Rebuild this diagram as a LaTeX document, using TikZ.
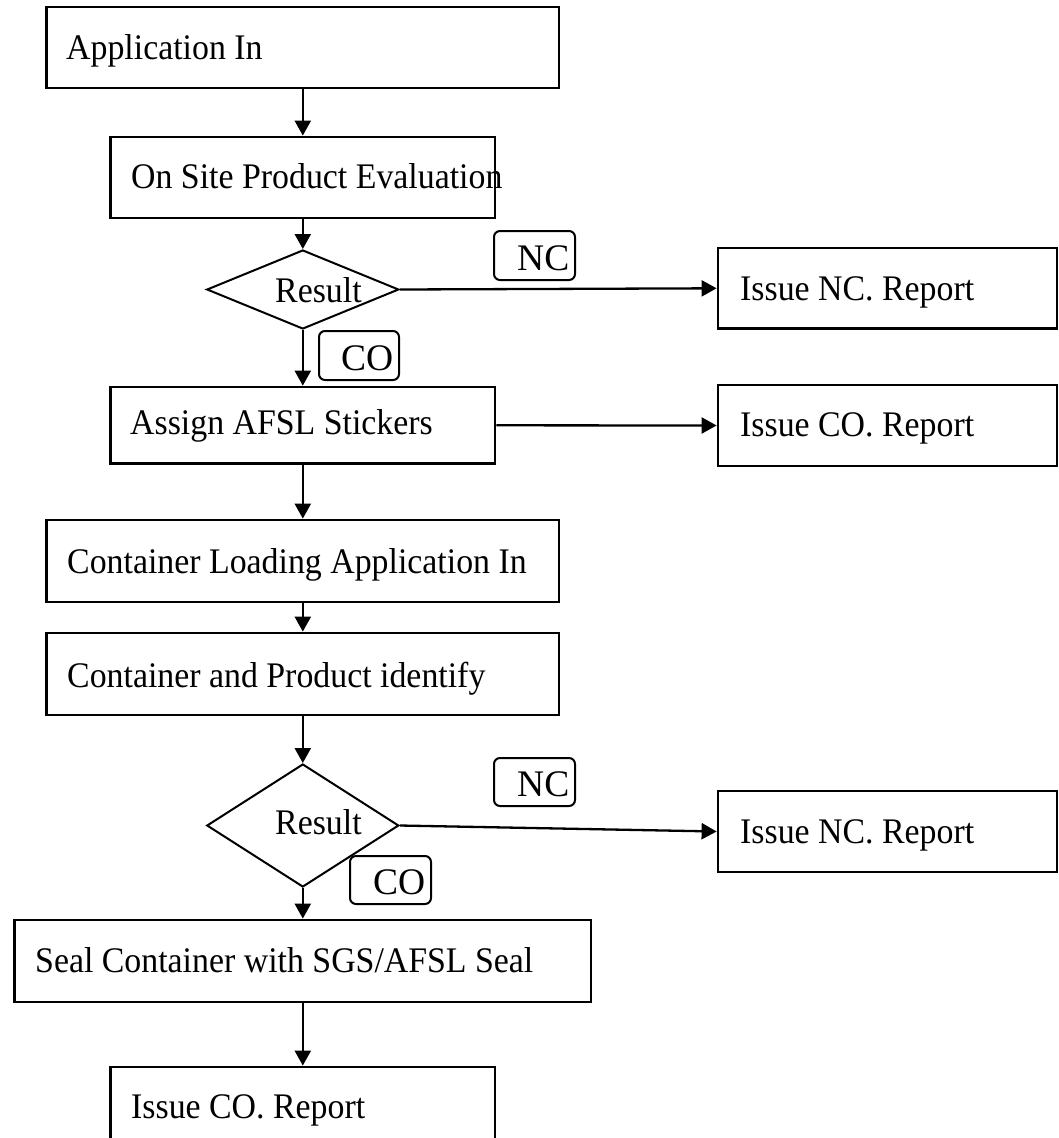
\documentclass[tikz,border=0pt]{standalone}
\usepackage{fontspec}
\setmainfont{Liberation Serif}
\newfontfamily\mainf{Liberation Serif}[FakeStretch=0.94]
\newfontfamily\labfont{Liberation Serif}
\usetikzlibrary{arrows.meta,shapes.geometric}
\tikzset{
  box/.style={draw, line width=2.8pt, rectangle, inner sep=0pt},
  decision/.style={draw, line width=2pt, diamond, inner sep=0pt},
  tag/.style={draw, line width=2pt, rectangle, rounded corners=6pt, inner sep=0pt},
  txt/.style={inner sep=0pt, anchor=base west, font=\mainf\fontsize{36}{40}\selectfont},
  tagtxt/.style={inner sep=0pt, anchor=base west, font=\labfont\fontsize{37.5}{42}\selectfont},
  flow/.style={line width=2.3pt, -{Triangle[length=15pt,width=16pt]}}
}
\begin{document}
\begin{tikzpicture}[x=1pt,y=-1pt]
\path[use as bounding box] (0,0) rectangle (1059,1138);
\clip (0,0) rectangle (1059,1138);
\fill[white] (0,0) rectangle (1059,1138);

% main column boxes
\node[box, minimum width=512.4pt, minimum height=81pt] (b1) at (302.8,47.5) {};
\node[box, minimum width=384.5pt, minimum height=81pt] (b2) at (302.8,177.5) {};
\node[decision, minimum width=192pt, minimum height=79pt] (d1) at (302.8,289.5) {};
\node[box, minimum width=384.5pt, minimum height=76.5pt] (b3) at (302.8,425.3) {};
\node[box, minimum width=512.4pt, minimum height=82pt] (b4) at (302.8,561) {};
\node[box, minimum width=512.4pt, minimum height=82pt] (b5) at (302.8,674) {};
\node[decision, minimum width=192pt, minimum height=123pt] (d2) at (302.8,825.5) {};
\node[box, minimum width=576.5pt, minimum height=82pt] (b6) at (302.8,961) {};
\node[box, minimum width=384.5pt, minimum height=82pt] (b7) at (302.8,1108) {};

% right column boxes
\node[box, minimum width=339pt, minimum height=80.5pt] (r1) at (887.5,288.3) {};
\node[box, minimum width=339pt, minimum height=81pt] (r2) at (887.5,425.5) {};
\node[box, minimum width=339pt, minimum height=81pt] (r3) at (887.5,831.5) {};

% tags
\node[tag, minimum width=81pt, minimum height=49pt] (l1) at (534.5,255.5) {};
\node[tag, minimum width=80pt, minimum height=49pt] (l2) at (359,355.5) {};
\node[tag, minimum width=81pt, minimum height=48pt] (l3) at (534.5,782) {};
\node[tag, minimum width=81pt, minimum height=48pt] (l4) at (390.5,880) {};

% texts
\node[txt] (t1) at (66,59) {Application In};
\node[txt] (t2) at (131,188) {On Site Product Evaluation};
\node[txt] (td1) at (275,302) {Result};
\node[txt] (t3) at (130,434) {Assign AFSL Stickers};
\node[txt] (t4) at (67,573) {Container Loading Application In};
\node[txt] (t5) at (67,687) {Container and Product identify};
\node[txt] (td2) at (275,834) {Result};
\node[txt] (t6) at (35,972) {Seal Container with SGS/AFSL Seal};
\node[txt] (t7) at (131,1118) {Issue CO. Report};
\node[txt] (tr1) at (740,300) {Issue NC. Report};
\node[txt] (tr2) at (740,436) {Issue CO. Report};
\node[txt] (tr3) at (740,843) {Issue NC. Report};

\node[tagtxt] (tl1) at (517,270) {NC};
\node[tagtxt] (tl2) at (341,370) {CO};
\node[tagtxt] (tl3) at (517,796) {NC};
\node[tagtxt] (tl4) at (373,894) {CO};

% connectors
\draw[flow] (b1.south) -- (b2.north);
\draw[flow] (b2.south) -- (d1.north);
\draw[flow] (d1.south) -- (b3.north);
\draw[flow] (d1.east) -- (r1.west);
\draw[flow] (b3.east) -- (r2.west);
\draw[flow] (b3.south) -- (b4.north);
\draw[flow] (b4.south) -- (b5.north);
\draw[flow] (b5.south) -- (d2.north);
\draw[flow] (d2.east) -- (r3.west);
\draw[flow] (d2.south) -- (b6.north);
\draw[flow] (b6.south) -- (b7.north);
\end{tikzpicture}
\end{document}
